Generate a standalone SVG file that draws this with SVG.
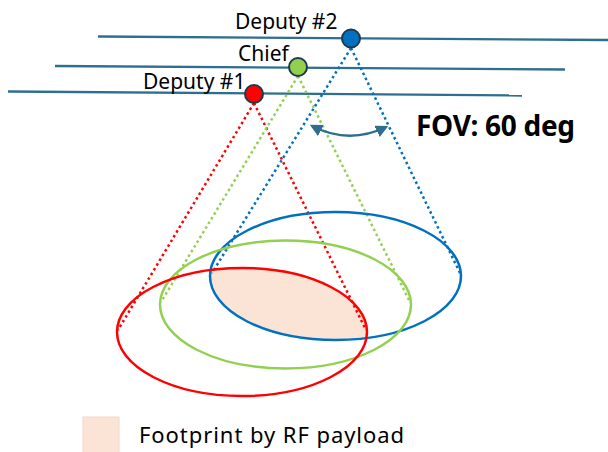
<svg xmlns="http://www.w3.org/2000/svg" width="608" height="452" viewBox="0 0 608 452">
  <style>
    .orbit { stroke: #2E6E8E; stroke-width: 2.3; fill: none; }
    .sat { stroke: #1F3A4D; stroke-width: 2; }
    .label { font-family: "Noto Sans", "Open Sans", sans-serif; font-size: 21px; fill: #000; }
    .legend-text { font-family: "Noto Sans", "Open Sans", sans-serif; font-size: 22px; fill: #000; }
    .fov { font-family: "Noto Sans", "Open Sans", sans-serif; font-size: 28px; font-weight: bold; fill: #000; }
    .cone { stroke-width: 2.5; stroke-dasharray: 2.5 3; fill: none; }
    .foot { stroke-width: 2.5; fill: none; }
  </style>
  <defs>
    <clipPath id="redClip">
      <ellipse cx="242" cy="332" rx="125" ry="64"/>
    </clipPath>
    <marker id="arrowHead" viewBox="0 0 10 10" refX="8" refY="5" markerWidth="5" markerHeight="5" orient="auto-start-reverse">
      <path d="M0,0 L10,5 L0,10 z" fill="#2E6E8E"/>
    </marker>
  </defs>

  <!-- overlap footprint (blue footprint clipped to red footprint) -->
  <g id="overlap">
    <ellipse cx="335.5" cy="276" rx="125.5" ry="64" fill="#FBE4D5" clip-path="url(#redClip)"/>
  </g>

  <!-- orbit tracks -->
  <g id="orbits">
    <line class="orbit" x1="98" y1="36.5" x2="608" y2="40"/>
    <line class="orbit" x1="55" y1="66" x2="565" y2="69.5"/>
    <line class="orbit" x1="8" y1="91.5" x2="522" y2="95.5"/>
  </g>

  <!-- field-of-view cones and FOV arc -->
  <g id="connectors">
    <line class="cone" stroke="#FF0000" x1="254" y1="103" x2="118" y2="330"/>
    <line class="cone" stroke="#FF0000" x1="254" y1="103" x2="366" y2="330"/>
    <line class="cone" stroke="#92D050" x1="298" y1="76" x2="161" y2="302"/>
    <line class="cone" stroke="#92D050" x1="298" y1="76" x2="410" y2="302"/>
    <line class="cone" stroke="#0070C0" x1="351" y1="48" x2="212" y2="273"/>
    <line class="cone" stroke="#0070C0" x1="351" y1="48" x2="460" y2="273"/>
    <path d="M312,126 Q349,145 386,127" stroke="#2E6E8E" stroke-width="2.5" fill="none" marker-start="url(#arrowHead)" marker-end="url(#arrowHead)"/>
  </g>

  <!-- ground footprints -->
  <g id="footprint-deputy2">
    <ellipse class="foot" stroke="#0070C0" cx="335.5" cy="276" rx="125.5" ry="64"/>
  </g>
  <g id="footprint-chief">
    <ellipse class="foot" stroke="#92D050" cx="285.5" cy="304.5" rx="125.5" ry="64"/>
  </g>
  <g id="footprint-deputy1">
    <ellipse class="foot" stroke="#FF0000" cx="242" cy="332" rx="125" ry="64"/>
  </g>

  <!-- satellites -->
  <g id="deputy2">
    <circle class="sat" cx="351" cy="38.5" r="9" fill="#0070C0"/>
    <text class="label" x="235" y="28.5">Deputy #2</text>
  </g>
  <g id="chief">
    <circle class="sat" cx="298" cy="67" r="9" fill="#92D050"/>
    <text class="label" x="238" y="60.5">Chief</text>
  </g>
  <g id="deputy1">
    <circle class="sat" cx="254" cy="94" r="9" fill="#FF0000"/>
    <text class="label" x="143" y="89">Deputy #1</text>
  </g>

  <g id="fov-label">
    <text class="fov" x="416" y="136" textLength="159">FOV: 60 deg</text>
  </g>

  <g id="legend">
    <rect x="83" y="417" width="36" height="36" fill="#FBE4D5" stroke="#F0D8CA" stroke-width="1"/>
    <text class="legend-text" x="139" y="442.5" textLength="265">Footprint by RF payload</text>
  </g>
</svg>
